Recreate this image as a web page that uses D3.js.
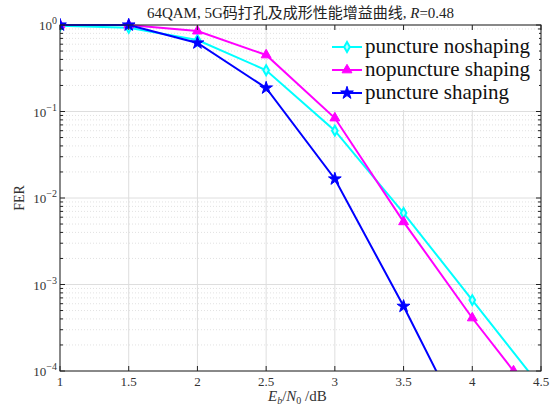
<!DOCTYPE html>
<html>
<head>
<meta charset="utf-8">
<script src="https://cdn.jsdelivr.net/npm/d3@7"></script>
<style>
  body { margin: 0; background: #fff; }
</style>
</head>
<body>
<div id="chart"></div>
<script>
// data
const ebn0 = [1, 1.5, 2, 2.5, 3, 3.5, 4, 4.5]
const punctureNoshaping = [0.98, 0.93, 0.67, 0.30, 0.060, 0.0067, 0.00066, 0.000065]
const nopunctureX = [1, 1.5, 2, 2.5, 3, 3.5, 4, 4.3]
const nopunctureShaping = [1.0, 1.0, 0.85, 0.45, 0.084, 0.0053, 0.00041, 0.0001]
const punctureShaping = [1.0, 1.0, 0.62, 0.187, 0.0166, 0.00056, 0.000015]
const xTicks = [1, 1.5, 2, 2.5, 3, 3.5, 4, 4.5]
const yExps = [0, -1, -2, -3, -4]

const series = [
  { name: 'puncture noshaping', color: '#00ffff', marker: 'diamond', xs: ebn0, ys: punctureNoshaping },
  { name: 'nopuncture shaping', color: '#ff00ff', marker: 'triangle', xs: nopunctureX, ys: nopunctureShaping },
  { name: 'puncture shaping', color: '#0000ff', marker: 'star', xs: ebn0, ys: punctureShaping }
]

const W = 557, H = 410
const m = { left: 60, right: 16, top: 25, bottom: 39 }
const pw = W - m.left - m.right, ph = H - m.top - m.bottom
const serif = 'Liberation Serif, Noto Sans CJK SC, serif'

const svg = d3.select('#chart').append('svg').attr('width', W).attr('height', H)
  .attr('font-family', serif)

const x = d3.scaleLinear().domain([1, 4.5]).range([m.left, m.left + pw])
const y = d3.scaleLog().domain([1e-4, 1]).range([m.top + ph, m.top])

// grid
const grid = svg.append('g')
const minors = []
for (let e = -4; e < 0; e++) for (let k = 2; k <= 9; k++) minors.push(k * Math.pow(10, e))
grid.selectAll('.minor').data(minors).enter().append('line')
  .attr('x1', m.left).attr('x2', m.left + pw)
  .attr('y1', d => y(d)).attr('y2', d => y(d))
  .attr('stroke', '#d6d6d6').attr('stroke-width', 0.7).attr('stroke-dasharray', '1,2')
grid.selectAll('.ymaj').data(yExps).enter().append('line')
  .attr('x1', m.left).attr('x2', m.left + pw)
  .attr('y1', d => y(Math.pow(10, d))).attr('y2', d => y(Math.pow(10, d)))
  .attr('stroke', '#dedede').attr('stroke-width', 1)
grid.selectAll('.xmaj').data(xTicks).enter().append('line')
  .attr('x1', d => x(d)).attr('x2', d => x(d))
  .attr('y1', m.top).attr('y2', m.top + ph)
  .attr('stroke', '#dedede').attr('stroke-width', 1)

// lines and markers
svg.append('clipPath').attr('id', 'clip').append('rect')
  .attr('x', m.left).attr('y', m.top - 8).attr('width', pw).attr('height', ph + 8)
const plot = svg.append('g').attr('clip-path', 'url(#clip)')
const line = d3.line().x(d => x(d[0])).y(d => y(d[1]))

const sym = {
  diamond: d3.symbol().type(d3.symbolDiamond).size(28),
  triangle: d3.symbol().type(d3.symbolTriangle).size(42),
  star: d3.symbol().type(d3.symbolStar).size(50)
}

series.forEach(s => {
  const pts = s.ys.map((v, i) => [s.xs[i], v])
  plot.append('path').datum(pts).attr('d', line)
    .attr('fill', 'none').attr('stroke', s.color).attr('stroke-width', 2)
  const hollow = s.marker === 'diamond'
  plot.selectAll(null).data(pts).enter().append('path')
    .attr('d', sym[s.marker]())
    .attr('transform', d => `translate(${x(d[0])},${y(d[1])})`)
    .attr('fill', hollow ? '#bff' : s.color)
    .attr('stroke', s.color).attr('stroke-width', hollow ? 2 : 1)
})

// axes box with inward ticks
const axes = svg.append('g').attr('stroke', '#222').attr('stroke-width', 1)
axes.append('rect').attr('x', m.left).attr('y', m.top).attr('width', pw).attr('height', ph)
  .attr('fill', 'none')
xTicks.forEach(t => {
  axes.append('line').attr('x1', x(t)).attr('x2', x(t)).attr('y1', m.top + ph).attr('y2', m.top + ph - 5)
  axes.append('line').attr('x1', x(t)).attr('x2', x(t)).attr('y1', m.top).attr('y2', m.top + 5)
})
yExps.forEach(e => {
  const yy = y(Math.pow(10, e))
  axes.append('line').attr('x1', m.left).attr('x2', m.left + 5).attr('y1', yy).attr('y2', yy)
  axes.append('line').attr('x1', m.left + pw).attr('x2', m.left + pw - 5).attr('y1', yy).attr('y2', yy)
})
minors.forEach(v => {
  const yy = y(v)
  axes.append('line').attr('x1', m.left).attr('x2', m.left + 3).attr('y1', yy).attr('y2', yy)
  axes.append('line').attr('x1', m.left + pw).attr('x2', m.left + pw - 3).attr('y1', yy).attr('y2', yy)
})

// tick labels
svg.append('g').selectAll('text').data(xTicks).enter().append('text')
  .attr('x', d => x(d)).attr('y', m.top + ph + 15)
  .attr('text-anchor', 'middle').attr('font-size', 13).attr('fill', '#333')
  .text(d => d)
const yl = svg.append('g').selectAll('text').data(yExps).enter().append('text')
  .attr('x', m.left - 3).attr('y', d => y(Math.pow(10, d)) + 5)
  .attr('text-anchor', 'end').attr('font-size', 13).attr('fill', '#333')
yl.append('tspan').text('10')
yl.append('tspan').attr('dy', -6).attr('font-size', 10).text(d => d === 0 ? '0' : '\u2212' + (-d))

// axis labels
const xl = svg.append('text').attr('x', 268).attr('y', 401)
  .attr('font-size', 15).attr('fill', '#333')
xl.append('tspan').attr('font-style', 'italic').text('E')
xl.append('tspan').attr('font-size', 10).attr('dy', 3).attr('font-style', 'italic').text('b')
xl.append('tspan').attr('dy', -3).text('/')
xl.append('tspan').attr('font-style', 'italic').text('N')
xl.append('tspan').attr('font-size', 10).attr('dy', 3).text('0')
xl.append('tspan').attr('dy', -3).text('\u00a0/dB')

svg.append('text').attr('transform', `translate(24,${m.top + ph / 2}) rotate(-90)`)
  .attr('text-anchor', 'middle').attr('font-size', 14).attr('fill', '#333').text('FER')

// title
const tt = svg.append('text').attr('x', m.left + pw / 2).attr('y', 18)
  .attr('text-anchor', 'middle').attr('font-size', 15).attr('fill', '#222')
tt.append('tspan').text('64QAM, 5G码打孔及成形性能增益曲线, ')
tt.append('tspan').attr('font-style', 'italic').text('R')
tt.append('tspan').text('=0.48')

// legend
const lg = svg.append('g').attr('transform', 'translate(330,30)')
lg.append('rect').attr('width', 209).attr('height', 80).attr('fill', '#fff')
series.forEach((s, i) => {
  const g = lg.append('g').attr('transform', `translate(0,${17 + i * 23})`)
  g.append('line').attr('x1', 2).attr('x2', 32).attr('stroke', s.color).attr('stroke-width', 2)
  const hollow = s.marker === 'diamond'
  g.append('path').attr('d', sym[s.marker]()).attr('transform', 'translate(17,0)')
    .attr('fill', hollow ? '#bff' : s.color).attr('stroke', s.color).attr('stroke-width', hollow ? 2 : 1)
  g.append('text').attr('x', 35).attr('y', 6).attr('font-size', 21)
    .attr('fill', '#111').text(s.name)
})
</script>
</body>
</html>
